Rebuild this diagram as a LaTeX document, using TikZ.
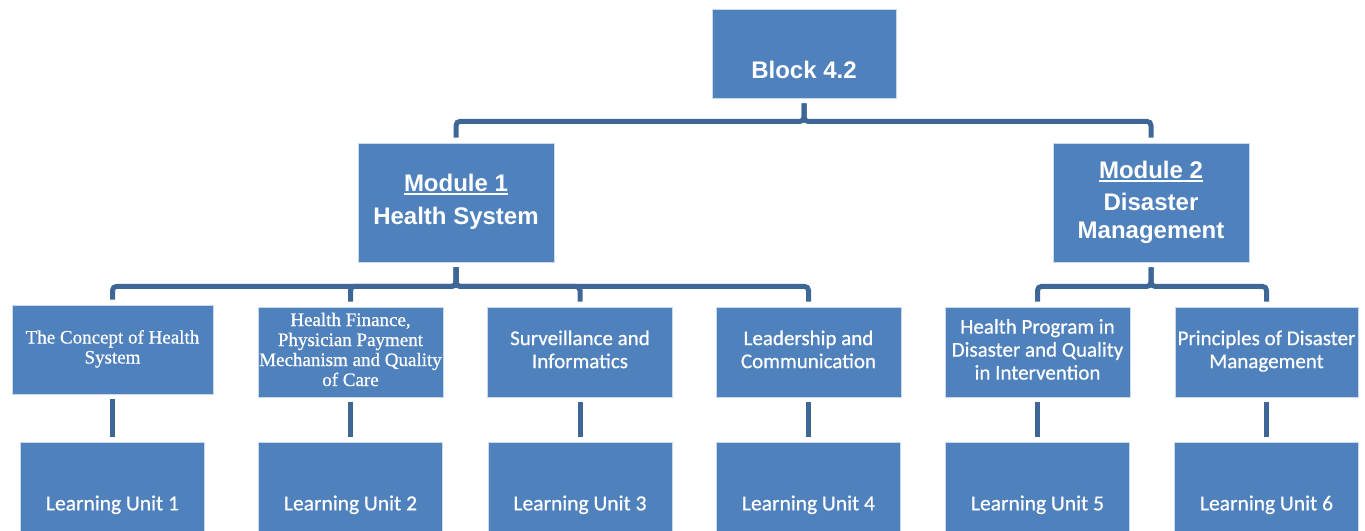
\documentclass[tikz,border=0pt]{standalone}
\usepackage{fontspec}
\setmainfont{Liberation Sans}
\newfontfamily\calibri[FakeBold=0.6]{Carlito}
\newfontfamily\cambria[FakeBold=0.7]{Liberation Serif}
\usetikzlibrary{positioning}

\definecolor{boxblue}{RGB}{79,129,189}
\definecolor{linkblue}{RGB}{62,103,152}

% underlined module heading, thicker than \underline
\newcommand{\modline}[1]{\setbox0\hbox{#1}\rlap{\rule[-4pt]{\wd0}{1.8pt}}\box0}

\tikzset{
  box/.style={rectangle, fill=boxblue, draw=white!70!boxblue, line width=0.8pt,
    text=white, inner sep=0pt},
  topic/.style={box, minimum width=185, minimum height=90,
    font=\calibri\fontsize{21}{23}\selectfont},
  unit/.style={box, minimum width=184, minimum height=124,
    font=\calibri\fontsize{21.5}{24}\selectfont},
  link/.style={draw=linkblue, line width=5pt, rounded corners=4pt,
    shorten <=5pt, shorten >=5pt},
}

\begin{document}
\begin{tikzpicture}[x=1pt,y=-1pt]
\clip (0,0) rectangle (1365,530);

\node[box, minimum width=184, minimum height=89, text height=54pt, text depth=4pt] (block) at (804,53.5) {
\bfseries\fontsize{24}{28}\selectfont Block 4.2
};

\node[box, minimum width=196, minimum height=119] (health) at (456,202.5) {
\bfseries\fontsize{24}{27.5}\selectfont
\begin{tabular}{@{}c@{}}\modline{Module 1}\\[6pt] Health System\end{tabular}
};

\node[box, minimum width=196, minimum height=119] (disaster) at (1151,202.5) {
\bfseries\fontsize{24}{27.5}\selectfont
\begin{tabular}{@{}c@{}}\modline{Module 2}\\[5pt] Disaster\\ Management\end{tabular}
};

\draw[link] (block.south) -- ++(0,23) -| (health.north);
\draw[link] (block.south) -- ++(0,23) -| (disaster.north);

% topics of module 1
\node[topic, minimum width=201, minimum height=89,
  font=\cambria\fontsize{19}{20}\selectfont] (concept) at (112.5,349.5) {
\begin{tabular}{@{}c@{}}The Concept of Health\\ System\end{tabular}
};

\node[topic, font=\cambria\fontsize{19}{20}\selectfont] (finance) at (350.5,352) {
\begin{tabular}{@{}c@{}}Health Finance,\\ Physician Payment\\ Mechanism and Quality\\ of Care\end{tabular}
};

\node[topic] (surveil) at (580,352) {
\begin{tabular}{@{}c@{}}Surveillance and\\ Informatics\end{tabular}
};

\node[topic] (leader) at (808.5,352) {
\begin{tabular}{@{}c@{}}Leadership and\\ Communication\end{tabular}
};

% topics of module 2
\node[topic] (program) at (1037.5,352) {
\begin{tabular}{@{}c@{}}Health Program in\\ Disaster and Quality\\ in Intervention\end{tabular}
};

\node[topic, minimum width=183] (principles) at (1266.5,352) {
\begin{tabular}{@{}c@{}}Principles of Disaster\\ Management\end{tabular}
};

\foreach \t in {concept,finance,surveil,leader}
  \draw[link] (health.south) -- ++(0,24) -| (\t.north);
\foreach \t in {program,principles}
  \draw[link] (disaster.south) -- ++(0,24) -| (\t.north);

% learning units
\node[unit, below=48pt of concept] (unit1) {Learning Unit 1};
\node[unit, below=45pt of finance] (unit2) {Learning Unit 2};
\node[unit, below=45pt of surveil] (unit3) {Learning Unit 3};
\node[unit, below=45pt of leader] (unit4) {Learning Unit 4};
\node[unit, below=45pt of program] (unit5) {Learning Unit 5};
\node[unit, below=45pt of principles] (unit6) {Learning Unit 6};

\foreach \t/\u in {concept/unit1,finance/unit2,surveil/unit3,leader/unit4,program/unit5,principles/unit6}
  \draw[link] (\t.south) -- (\u.north);

\end{tikzpicture}
\end{document}
